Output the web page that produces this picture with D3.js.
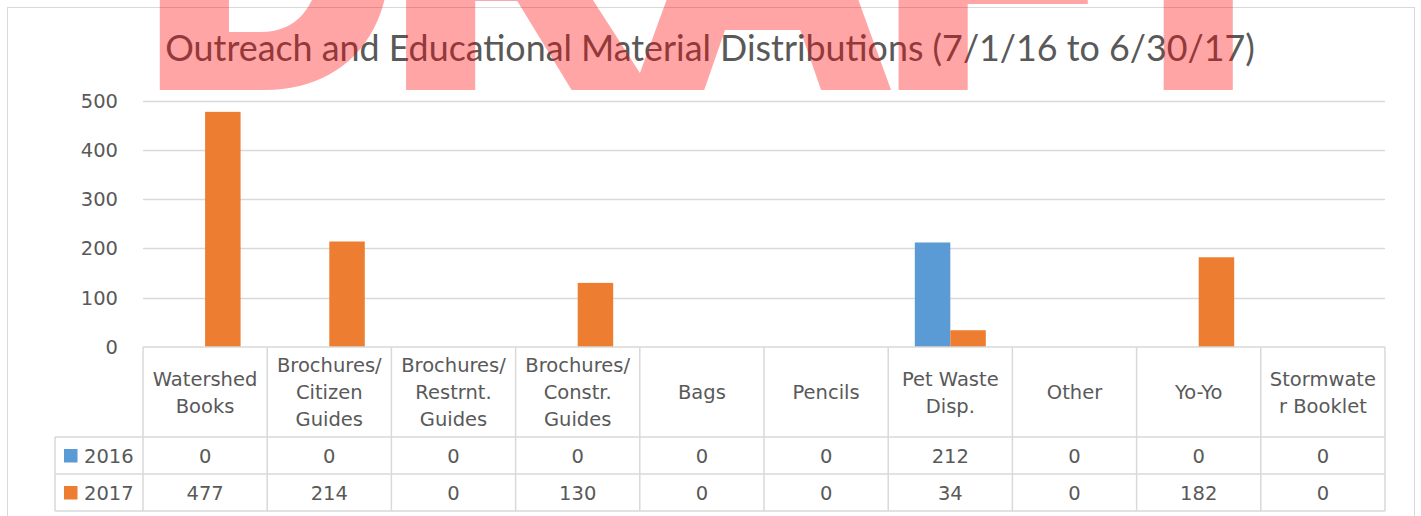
<!DOCTYPE html>
<html>
<head>
<meta charset="utf-8">
<script src="https://cdn.jsdelivr.net/npm/d3@7"></script>
<style>
  body { margin: 0; background: #fff; }
  text { fill: #595959; }
</style>
</head>
<body>
<div id="chart"></div>
<script>
// chart data
var titleText = "Outreach and Educational Material Distributions (7/1/16 to 6/30/17)";
var categories = [
  ["Watershed", "Books"],
  ["Brochures/", "Citizen", "Guides"],
  ["Brochures/", "Restrnt.", "Guides"],
  ["Brochures/", "Constr.", "Guides"],
  ["Bags"],
  ["Pencils"],
  ["Pet Waste", "Disp."],
  ["Other"],
  ["Yo-Yo"],
  ["Stormwate", "r Booklet"]
];
var seriesNames = ["2016", "2017"];
var values2016 = [0, 0, 0, 0, 0, 0, 212, 0, 0, 0];
var values2017 = [477, 214, 0, 130, 0, 0, 34, 0, 182, 0];
var yTicks = [0, 100, 200, 300, 400, 500];
var colors = { "2016": "#5B9BD5", "2017": "#ED7D31" };

var seriesValues = { "2016": values2016, "2017": values2017 };
var W = 1421, H = 516;
var labelFont = "DejaVu Sans";
var gridColor = "#d9d9d9";

var svg = d3.select("#chart")
  .append("svg")
  .attr("width", W)
  .attr("height", H);

// outer chart border
svg.append("rect")
  .attr("x", 7.5)
  .attr("y", 7.5)
  .attr("width", 1407)
  .attr("height", 530)
  .attr("fill", "none")
  .attr("stroke", gridColor);

// scales
var x = d3.scaleBand()
  .domain(d3.range(categories.length))
  .range([143, 1385]);

var xInner = d3.scaleBand()
  .domain(seriesNames)
  .range([0, x.bandwidth()])
  .paddingInner(0)
  .paddingOuter(0.75);

var y = d3.scaleLinear()
  .domain([0, 500])
  .range([347, 100.5]);

// title
var title = svg.append("text")
  .attr("x", 710)
  .attr("y", 61)
  .attr("text-anchor", "middle")
  .style("font-family", "Lato")
  .style("font-size", "36px")
  .text(titleText);
var tw = title.node().getComputedTextLength();
title.style("font-size", (36 * 1090 / tw) + "px");

// gridlines
svg.append("g")
  .selectAll("line")
  .data(yTicks.filter(function(d) { return d > 0; }))
  .enter()
  .append("line")
  .attr("x1", 143)
  .attr("x2", 1385)
  .attr("y1", function(d) { return Math.round(y(d)) + 0.5; })
  .attr("y2", function(d) { return Math.round(y(d)) + 0.5; })
  .attr("stroke", gridColor)
  .attr("stroke-width", 1.5);

// y axis labels
svg.append("g")
  .selectAll("text")
  .data(yTicks)
  .enter()
  .append("text")
  .attr("x", 118)
  .attr("y", function(d) { return y(d); })
  .attr("dy", "0.36em")
  .attr("text-anchor", "end")
  .style("font-family", labelFont)
  .style("font-size", "19.5px")
  .text(function(d) { return d; });

// bars
var groups = svg.append("g")
  .selectAll("g")
  .data(categories)
  .enter()
  .append("g")
  .attr("transform", function(d, i) {
    return "translate(" + x(i) + ",0)";
  });

groups.selectAll("rect")
  .data(function(d, i) {
    return seriesNames.map(function(s) {
      return { series: s, value: seriesValues[s][i] };
    });
  })
  .enter()
  .append("rect")
  .attr("x", function(d) { return xInner(d.series); })
  .attr("y", function(d) { return y(d.value); })
  .attr("width", xInner.bandwidth())
  .attr("height", function(d) { return y(0) - y(d.value); })
  .attr("fill", function(d) { return colors[d.series]; });

// data table
var rowTop = 347, headBottom = 437, rowH = 37, tableLeft = 55;
var table = svg.append("g")
  .attr("stroke", gridColor)
  .attr("stroke-width", 1.5);

var colEdges = d3.range(categories.length).map(function(i) { return x(i); }).concat([x.range()[1]]);
table.selectAll(".vline")
  .data(colEdges)
  .enter()
  .append("line")
  .attr("x1", function(d) { return d; })
  .attr("x2", function(d) { return d; })
  .attr("y1", rowTop)
  .attr("y2", headBottom + rowH * 2);

table.append("line")
  .attr("x1", tableLeft).attr("x2", tableLeft)
  .attr("y1", headBottom).attr("y2", headBottom + rowH * 2);

table.append("line")
  .attr("x1", 143).attr("x2", 1385)
  .attr("y1", rowTop).attr("y2", rowTop);

table.selectAll(".hline")
  .data([0, 1, 2])
  .enter()
  .append("line")
  .attr("x1", tableLeft)
  .attr("x2", 1385)
  .attr("y1", function(d) { return headBottom + d * rowH; })
  .attr("y2", function(d) { return headBottom + d * rowH; });

// category labels
var lineH = 27;
svg.append("g")
  .selectAll("text")
  .data(categories)
  .enter()
  .append("text")
  .attr("text-anchor", "middle")
  .style("font-family", labelFont)
  .style("font-size", "19.5px")
  .each(function(d, i) {
    var cx = x(i) + x.bandwidth() / 2;
    var cy = (rowTop + headBottom) / 2;
    var t = d3.select(this);
    d.forEach(function(line, k) {
      t.append("tspan")
        .attr("x", cx)
        .attr("y", cy + (k - (d.length - 1) / 2) * lineH)
        .attr("dy", "0.36em")
        .text(line);
    });
  });

// table rows
var rows = svg.append("g")
  .selectAll("g")
  .data(seriesNames)
  .enter()
  .append("g")
  .attr("transform", function(d, i) {
    return "translate(0," + (headBottom + i * rowH + rowH / 2) + ")";
  });

rows.append("rect")
  .attr("x", 64)
  .attr("y", -6.5)
  .attr("width", 13.5)
  .attr("height", 13.5)
  .attr("fill", function(d) { return colors[d]; });

rows.append("text")
  .attr("x", 84)
  .attr("dy", "0.36em")
  .style("font-family", labelFont)
  .style("font-size", "19.5px")
  .text(function(d) { return d; });

rows.selectAll(".val")
  .data(function(s) { return seriesValues[s]; })
  .enter()
  .append("text")
  .attr("x", function(d, i) { return x(i) + x.bandwidth() / 2; })
  .attr("dy", "0.36em")
  .attr("text-anchor", "middle")
  .style("font-family", labelFont)
  .style("font-size", "19.5px")
  .text(function(d) { return d; });

// DRAFT watermark
svg.append("g")
  .attr("opacity", 0.35)
  .append("text")
  .attr("x", 147)
  .attr("y", 80)
  .style("font-family", "Liberation Sans")
  .style("font-weight", "bold")
  .style("font-size", "341px")
  .style("fill", "#ff0000")
  .attr("stroke", "#ff0000")
  .attr("stroke-width", 20)
  .attr("stroke-linejoin", "miter")
  .text("DRAFT");
</script>
</body>
</html>
